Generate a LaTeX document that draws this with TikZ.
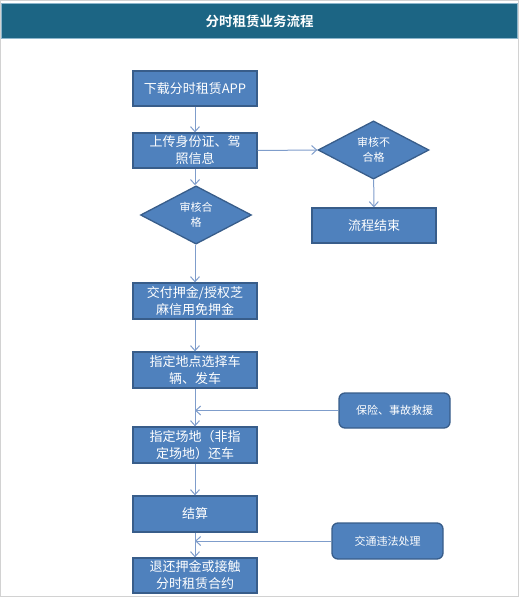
\documentclass[tikz,border=0pt]{standalone}
\usepackage{fontspec}
\setmainfont{Noto Sans CJK SC}
\newfontfamily\cjkbold{Noto Sans CJK SC Bold}
\usetikzlibrary{shapes.geometric,arrows.meta}
\definecolor{boxfill}{HTML}{4F81BD}
\definecolor{boxline}{HTML}{385D8A}
\definecolor{conn}{HTML}{7F9DCB}
\definecolor{titlebg}{HTML}{1C6584}
\definecolor{titleline}{HTML}{8DB6CC}
\begin{document}
\begin{tikzpicture}[x=1pt,y=-1pt,
  stepbox/.style={draw=boxline,line width=1.3pt,fill=boxfill,text=white,
    minimum width=124pt,minimum height=35pt,inner sep=2pt,align=center,
    font=\fontsize{13}{17}\selectfont},
  sidebox/.style={draw=boxline,line width=1.3pt,fill=boxfill,text=white,
    rounded corners=6pt,minimum width=111pt,minimum height=35pt,inner sep=2pt,
    align=center,font=\fontsize{11}{14}\selectfont},
  decide/.style={diamond,draw=boxline,line width=1.3pt,fill=boxfill,text=white,
    inner sep=0pt,align=center,font=\fontsize{11}{15}\selectfont},
  conn/.style={draw=conn,line width=1pt,-{Straight Barb[length=5pt,width=9pt]}}
]
\useasboundingbox (0,0) rectangle (520,597);
\draw[gray!35,line width=0.8pt] (0.5,0.5) rectangle (518.5,596.5);
\node[fill=titlebg,draw=titleline,line width=1pt,minimum width=516pt,minimum height=35pt,anchor=north west,text=white,
  font=\cjkbold\fontsize{13.5}{16}\selectfont] (title) at (1,3) {分时租赁业务流程};

\node[stepbox] (b1) at (195,88.5) {下载分时租赁APP};
\node[stepbox] (b2) at (195,150.5) {上传身份证、驾\\照信息};
\node[decide,minimum width=111pt,minimum height=55pt] (d1) at (196,215) {审核合\\格};
\node[decide,minimum width=111pt,minimum height=34pt] (dr) at (373.5,150) {审核不\\合格};
\node[stepbox] (end) at (374,225.5) {流程结束};
\node[stepbox,minimum height=36pt] (b3) at (195,301) {交付押金/授权芝\\麻信用免押金};
\node[stepbox,minimum height=36pt] (b4) at (195,370) {指定地点选择车\\辆、发车};
\node[sidebox] (ins) at (394.5,410.5) {保险、事故救援};
\node[stepbox,minimum height=36pt] (b5) at (195,445) {指定场地（非指\\定场地）还车};
\node[stepbox,minimum height=36pt] (b6) at (195,514) {结算};
\node[sidebox,minimum height=36pt] (tr) at (387.5,541) {交通违法处理};
\node[stepbox] (b7) at (195,575.5) {退还押金或接触\\分时租赁合约};

\coordinate (j1) at (ins.west -| b4.south);
\coordinate (j2) at (tr.west -| b6.south);

\draw[conn] (b1) -- (b2);
\draw[conn] (b2.south) -- (d1.north -| b2.south);
\draw[conn] (b2.east) -- (dr.west);
\draw[conn] (dr) -- (end);
\draw[conn] (d1.south -| b3.north) -- (b3.north);
\draw[conn] (b3) -- (b4);
\draw[conn] (b4) -- (b5);
\draw[conn] (b5) -- (b6);
\draw[conn] (b6) -- (b7);
\draw[conn] (ins.west) -- (j1);
\draw[conn] (tr.west) -- (j2);
\end{tikzpicture}
\end{document}
